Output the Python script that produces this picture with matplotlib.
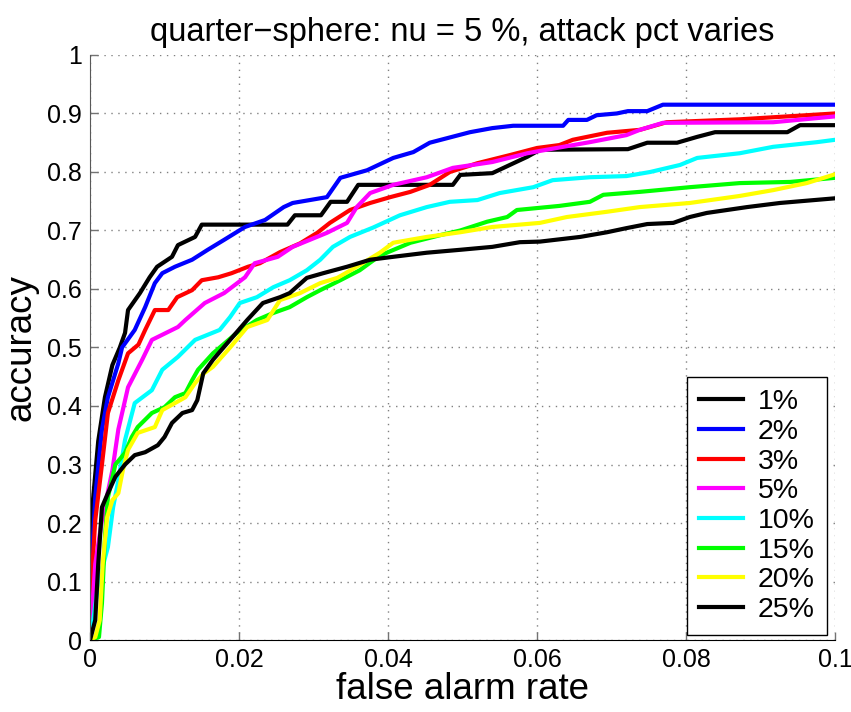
"""Accuracy vs false alarm rate for the quarter-sphere detector, nu = 5 %."""

import matplotlib

matplotlib.use("Agg")
import matplotlib.pyplot as plt
from matplotlib.ticker import FuncFormatter

# attack percentages shown in the legend
labels = ["1%", "2%", "3%", "5%", "10%", "15%", "20%", "25%"]

fa_1 = [0, 0.0002, 0.0004, 0.0011, 0.002, 0.003, 0.004, 0.0047, 0.0051, 0.0067, 0.008, 0.009,
        0.011, 0.0118, 0.0141, 0.015, 0.0228, 0.0265, 0.0275, 0.031, 0.0323, 0.0345, 0.036,
        0.0487, 0.0497, 0.054, 0.0587, 0.0604, 0.0722, 0.0748, 0.0788, 0.0815, 0.0839, 0.0936,
        0.0953, 0.1]
acc_1 = [0, 0.12, 0.24, 0.34, 0.415, 0.47, 0.50, 0.525, 0.564, 0.593, 0.62, 0.638,
         0.655, 0.675, 0.689, 0.71, 0.71, 0.71, 0.726, 0.726, 0.749, 0.749, 0.778,
         0.778, 0.795, 0.798, 0.826, 0.838, 0.839, 0.85, 0.85, 0.86, 0.868, 0.868,
         0.88, 0.88]

fa_2 = [0, 0.0003, 0.0007, 0.0016, 0.0024, 0.0038, 0.0043, 0.006, 0.0074, 0.0087, 0.0097,
        0.0114, 0.0137, 0.0158, 0.018, 0.0208, 0.0235, 0.026, 0.0272, 0.0318, 0.0336, 0.0372,
        0.0407, 0.0434, 0.0456, 0.048, 0.051, 0.054, 0.0568, 0.0635, 0.0642, 0.0667, 0.068,
        0.0707, 0.0722, 0.0748, 0.0769, 0.1]
acc_2 = [0, 0.15, 0.245, 0.36, 0.415, 0.473, 0.50, 0.53, 0.569, 0.61, 0.627,
         0.638, 0.65, 0.667, 0.684, 0.706, 0.718, 0.74, 0.747, 0.757, 0.79, 0.803,
         0.824, 0.834, 0.85, 0.858, 0.868, 0.875, 0.879, 0.879, 0.889, 0.889, 0.897,
         0.90, 0.904, 0.904, 0.915, 0.915]

fa_3 = [0, 0.0002, 0.0007, 0.0016, 0.0024, 0.0038, 0.0051, 0.0065, 0.0074, 0.0087, 0.0105,
        0.0117, 0.0137, 0.015, 0.0172, 0.019, 0.0212, 0.0228, 0.0255, 0.0282, 0.0305, 0.0322,
        0.0349, 0.0376, 0.0403, 0.043, 0.0456, 0.0483, 0.052, 0.0564, 0.06, 0.063, 0.0648,
        0.0694, 0.0738, 0.0774, 0.0872, 0.1]
acc_3 = [0, 0.10, 0.205, 0.30, 0.388, 0.444, 0.49, 0.505, 0.53, 0.564, 0.564,
         0.586, 0.598, 0.615, 0.62, 0.627, 0.638, 0.644, 0.663, 0.678, 0.696, 0.713,
         0.735, 0.747, 0.757, 0.766, 0.778, 0.80, 0.815, 0.829, 0.841, 0.846, 0.855,
         0.867, 0.872, 0.885, 0.89, 0.90]

fa_5 = [0, 0.0002, 0.0007, 0.0016, 0.003, 0.0038, 0.0051, 0.007, 0.0083, 0.0091, 0.0118,
        0.0128, 0.0154, 0.018, 0.0208, 0.0221, 0.0252, 0.0272, 0.0318, 0.0345, 0.0358, 0.0376,
        0.0407, 0.0452, 0.0487, 0.054, 0.0587, 0.0604, 0.0671, 0.072, 0.0738, 0.0769, 0.0917,
        0.1]
acc_5 = [0, 0.034, 0.13, 0.205, 0.29, 0.36, 0.432, 0.479, 0.513, 0.518, 0.535,
         0.547, 0.576, 0.593, 0.62, 0.644, 0.655, 0.672, 0.696, 0.713, 0.74, 0.764,
         0.778, 0.791, 0.807, 0.817, 0.832, 0.836, 0.851, 0.863, 0.872, 0.884, 0.885,
         0.895]

fa_10 = [0, 0.0003, 0.0011, 0.0024, 0.0031, 0.0038, 0.0047, 0.006, 0.0083, 0.0097, 0.0118,
         0.0141, 0.0174, 0.0188, 0.0201, 0.0224, 0.0246, 0.0268, 0.0291, 0.0309, 0.0326, 0.0349,
         0.038, 0.0416, 0.0452, 0.0483, 0.052, 0.055, 0.0595, 0.0621, 0.0671, 0.072, 0.0752,
         0.0792, 0.0815, 0.0872, 0.0917, 0.0976, 0.1]
acc_10 = [0, 0.022, 0.097, 0.159, 0.227, 0.273, 0.342, 0.405, 0.427, 0.462, 0.484,
          0.513, 0.53, 0.552, 0.576, 0.586, 0.603, 0.615, 0.632, 0.65, 0.672, 0.689,
          0.705, 0.726, 0.74, 0.749, 0.752, 0.764, 0.774, 0.786, 0.791, 0.793, 0.80,
          0.812, 0.824, 0.832, 0.843, 0.851, 0.855]

fa_15 = [0, 0.0012, 0.0016, 0.002, 0.0024, 0.0034, 0.0047, 0.0056, 0.0064, 0.0083, 0.01,
         0.0114, 0.0128, 0.0137, 0.0145, 0.0165, 0.0197, 0.0224, 0.0246, 0.0268, 0.0291, 0.0309,
         0.0336, 0.0362, 0.0389, 0.043, 0.047, 0.0497, 0.0533, 0.056, 0.0573, 0.063, 0.0671,
         0.0689, 0.0738, 0.0805, 0.0872, 0.094, 0.1]
acc_15 = [0, 0.005, 0.063, 0.176, 0.244, 0.30, 0.32, 0.347, 0.364, 0.388, 0.398,
          0.415, 0.422, 0.444, 0.462, 0.49, 0.525, 0.547, 0.559, 0.569, 0.586, 0.598,
          0.615, 0.632, 0.657, 0.679, 0.692, 0.70, 0.715, 0.723, 0.735, 0.742, 0.749,
          0.761, 0.766, 0.774, 0.781, 0.783, 0.79]

fa_20 = [0, 0.0007, 0.0013, 0.0017, 0.0023, 0.003, 0.0038, 0.0044, 0.0051, 0.0064, 0.0087,
         0.0097, 0.0114, 0.0128, 0.0141, 0.0152, 0.0165, 0.0188, 0.0211, 0.0238, 0.0255, 0.0282,
         0.0309, 0.0332, 0.0358, 0.0389, 0.0407, 0.0452, 0.0497, 0.054, 0.0604, 0.064, 0.0694,
         0.0738, 0.0805, 0.0872, 0.0917, 0.0962, 0.1]
acc_20 = [0, 0.005, 0.034, 0.13, 0.21, 0.239, 0.251, 0.29, 0.325, 0.354, 0.364,
          0.393, 0.405, 0.415, 0.439, 0.455, 0.467, 0.50, 0.535, 0.547, 0.581, 0.593,
          0.61, 0.619, 0.638, 0.662, 0.679, 0.689, 0.697, 0.706, 0.713, 0.723, 0.732,
          0.74, 0.747, 0.759, 0.769, 0.781, 0.796]

fa_25 = [0, 0.0007, 0.0011, 0.0016, 0.0024, 0.0034, 0.0047, 0.006, 0.0074, 0.0091, 0.01,
         0.011, 0.0124, 0.0137, 0.0144, 0.0152, 0.0165, 0.0188, 0.0211, 0.0232, 0.0255, 0.0268,
         0.0291, 0.0313, 0.0345, 0.0376, 0.0407, 0.0452, 0.0497, 0.054, 0.0577, 0.0604, 0.0658,
         0.0694, 0.072, 0.0748, 0.0783, 0.0805, 0.0828, 0.0882, 0.0926, 0.1]
acc_25 = [0, 0.034, 0.13, 0.227, 0.251, 0.279, 0.30, 0.316, 0.321, 0.333, 0.347,
          0.371, 0.388, 0.393, 0.41, 0.456, 0.479, 0.513, 0.547, 0.576, 0.586, 0.593,
          0.619, 0.627, 0.638, 0.65, 0.655, 0.662, 0.667, 0.672, 0.68, 0.681, 0.689,
          0.697, 0.704, 0.711, 0.713, 0.723, 0.73, 0.74, 0.747, 0.755]

x_ticks = [0, 0.02, 0.04, 0.06, 0.08, 0.1]
y_ticks = [0, 0.1, 0.2, 0.3, 0.4, 0.5, 0.6, 0.7, 0.8, 0.9, 1]

series = [(fa_1, acc_1, "black"), (fa_2, acc_2, "#0000ff"), (fa_3, acc_3, "#ff0000"),
          (fa_5, acc_5, "#ff00ff"), (fa_10, acc_10, "#00ffff"), (fa_15, acc_15, "#00ff00"),
          (fa_20, acc_20, "#ffff00"), (fa_25, acc_25, "black")]


def main() -> None:
    plt.rcParams["font.family"] = ["Liberation Sans", "DejaVu Sans"]
    fig = plt.figure(figsize=(8.51, 7.12), dpi=100)
    ax = fig.add_axes([0.1058, 0.1011, 0.8754, 0.8217])

    for (fa, acc, color), label in zip(series, labels):
        ax.plot(fa, acc, color=color, lw=3.0, label=label)

    ax.set_xlim(0, 0.1)
    ax.set_ylim(0, 1)
    ax.set_xticks(x_ticks)
    ax.set_yticks(y_ticks)
    ax.xaxis.set_major_formatter(FuncFormatter(lambda v, _: f"{v:g}"))
    ax.yaxis.set_major_formatter(FuncFormatter(lambda v, _: f"{v:g}"))
    ax.tick_params(direction="in", length=6, width=1, color="0.45", labelsize=18, pad=6)
    ax.grid(True, color="0.5", linestyle=(0, (1, 4)), linewidth=1)
    ax.spines["top"].set_visible(False)
    ax.spines["right"].set_visible(False)
    ax.spines["left"].set_color("0.35")
    ax.spines["bottom"].set_color("black")

    ax.set_title("quarter\u2212sphere: nu = 5 %, attack pct varies", fontsize=23.5, pad=10)
    ax.set_xlabel("false alarm rate", fontsize=26.5, labelpad=0)
    ax.set_ylabel("accuracy", fontsize=26.5, labelpad=6)

    leg = ax.legend(loc="lower right", bbox_to_anchor=(0.989, 0.0085), borderaxespad=0,
                    fontsize=20.5, handlelength=1.55, handletextpad=0.53, labelspacing=0.13,
                    fancybox=False, framealpha=1, edgecolor="black", borderpad=0.42)
    leg.get_frame().set_linewidth(1)

    fig.savefig("out.png", dpi=100)


if __name__ == "__main__":
    main()
